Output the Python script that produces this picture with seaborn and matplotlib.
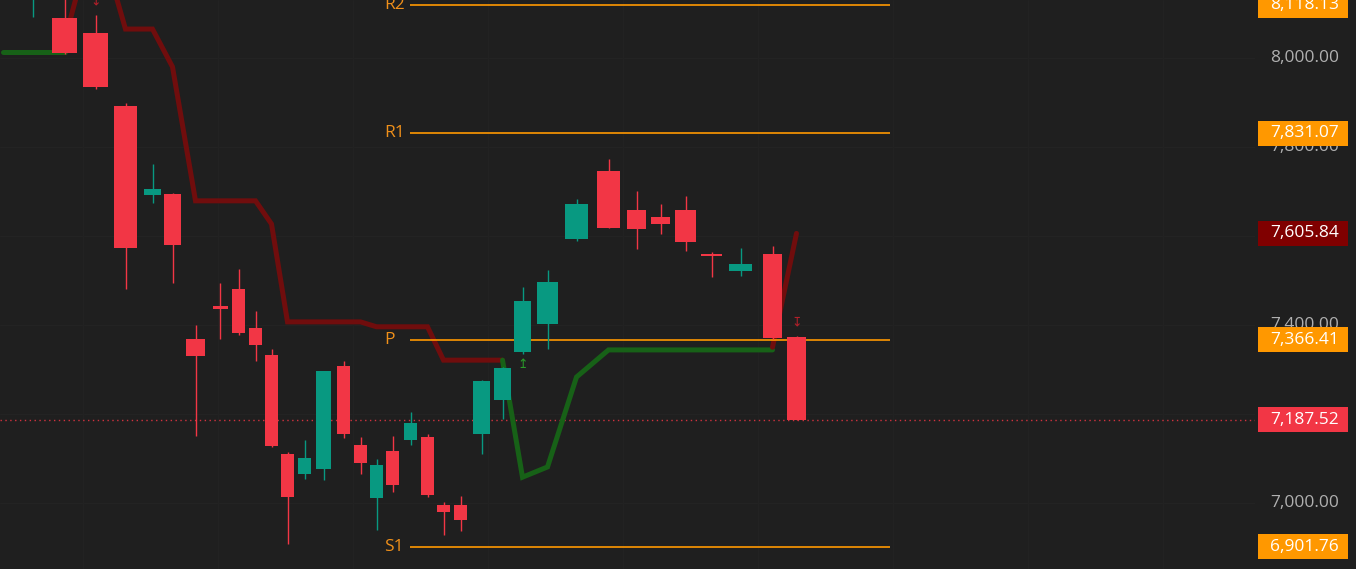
import numpy as np
import pandas as pd
import matplotlib
matplotlib.use("Agg")
import matplotlib.pyplot as plt
import matplotlib.transforms as mtransforms
from matplotlib.patches import FancyBboxPatch
import seaborn as sns

# --- data -----------------------------------------------------------------
bar_t = [3, 33, 64.5, 95.5, 125.5, 152.5, 172.5, 195.5, 220.3, 238.5, 255.5,
         271.5, 287.5, 304.5, 323.5, 343.5, 360.5, 376.5, 392.5, 410.5, 427.5,
         443.5, 460.5, 481.5, 502.5, 522.5, 547.5, 576.5, 608.5, 636.5, 660.5,
         685.5, 711.5, 740.5, 772.5, 796.5]
opens = [8200, 8180, 8090, 8056, 7892, 7692, 7694, 7369, 7438, 7481, 7393,
         7333, 7110, 7066, 7076, 7308, 7130, 7011, 7117, 7142, 7148,
         6996, 6996, 7155, 7232, 7339, 7402, 7593, 7746, 7658, 7643,
         7658, 7555, 7521, 7560, 7373]
highs = [8260, 8260, 8150, 8097, 7899, 7762, 7697, 7401, 7494, 7526, 7431,
         7346, 7115, 7142, 7297, 7319, 7148, 7099, 7151, 7204, 7155,
         7002, 7016, 7276, 7305, 7485, 7524, 7684, 7773, 7701, 7672,
         7690, 7564, 7573, 7578, 7376]
lows = [8150, 8092, 8008, 7930, 7481, 7674, 7494, 7151, 7369, 7378, 7319,
        7126, 6909, 7055, 7052, 7146, 7065, 6939, 7025, 7130, 7013,
        6928, 6937, 7111, 7189, 7335, 7346, 7589, 7617, 7571, 7604,
        7566, 7508, 7510, 7369, 7187.52]
closes = [8240, 8230, 8011, 7935, 7573, 7706, 7580, 7330, 7437, 7382, 7356,
          7129, 7013, 7101, 7297, 7156, 7090, 7085, 7040, 7180, 7018,
          6980, 6962, 7274, 7303, 7454, 7497, 7672, 7618, 7616, 7627,
          7587, 7554, 7537, 7371, 7187.52]

# supertrend segments
st_up1_t = [3, 33, 64.5]
st_up1_v = [8013, 8013, 8013]
st_dn1_t = [64.5, 95.5, 125.5, 152.5, 172.5, 195.5, 220.3, 238.5, 255.5, 271.5,
            287.5, 304.5, 323.5, 343.5, 360.5, 376.5, 392.5, 410.5, 427.5,
            443.5, 460.5, 481.5, 502.5]
st_dn1_v = [8038, 8299, 8065, 8065, 7980, 7679, 7679, 7679, 7679, 7627,
            7407, 7407, 7407, 7407, 7407, 7396, 7396, 7396, 7396,
            7321, 7321, 7321, 7321]
st_up2_t = [502.5, 522.5, 547.5, 576.5, 608.5, 636.5, 660.5, 685.5, 711.5,
            740.5, 772.5]
st_up2_v = [7321, 7058, 7081, 7283, 7344, 7344, 7344, 7344, 7344, 7344, 7344]
st_dn2_t = [772.5, 796.5]
st_dn2_v = [7350, 7605.84]

buy_t = [522.5]
buy_v = [7312]
sell_t = [95.5, 796.5]
sell_v = [8128, 7407]

# pivot levels
pivot_names = ["R2", "R1", "P", "S1"]
pivot_values = [8118.13, 7831.07, 7366.41, 6901.76]
pivot_start, pivot_end = 410, 890

last_price = 7187.52
last_st = 7605.84
price_ticks = [7000, 7200, 7400, 7600, 7800, 8000]
tick_labels = ["7,000.00", "", "7,400.00", "7,600.00", "7,800.00", "8,000.00"]

# --- style ----------------------------------------------------------------
BG = "#1f1f1f"
UP = "#089981"
DN = "#f23645"
ORANGE = "#ff9800"

sns.set_theme(style="dark", rc={"figure.facecolor": BG, "axes.facecolor": BG})
plt.rcParams["font.family"] = ["Open Sans", "DejaVu Sans"]

W, H = 1356, 569
fig = plt.figure(figsize=(W / 100, H / 100), dpi=100)
ax = fig.add_axes([0, 0, 1255 / W, 1])
ymin, ymax = 6851.7, 8130.3
ax.set_xlim(0, 1255)
ax.set_ylim(ymin, ymax)
for s in ax.spines.values():
    s.set_visible(False)
ax.set_xticks([])
ax.set_yticks([])

# faint grid
for v in price_ticks:
    ax.axhline(v, color="#232323", lw=1, zorder=0)
for gx in np.arange(83, 1255, 135):
    ax.axvline(gx, color="#222222", lw=1, zorder=0)

# supertrend lines
for tt, vv, col in [(st_up1_t, st_up1_v, "#176117"), (st_dn1_t, st_dn1_v, "#700d0d"),
                    (st_up2_t, st_up2_v, "#176117"), (st_dn2_t, st_dn2_v, "#700d0d")]:
    sns.lineplot(x=tt, y=vv, ax=ax, color=col, lw=3.6, sort=False,
                 estimator=None, zorder=2, solid_joinstyle="miter")

# candles
t = np.array(bar_t, dtype=float)
gaps = np.diff(t)
left = np.r_[gaps[0], gaps]
right = np.r_[gaps, gaps[-1]]
widths = 0.82 * np.minimum(left, right)
o, h, l, c = map(np.array, (opens, highs, lows, closes))
colors = np.where(c > o, UP, DN)
min_body = 2.2 * (ymax - ymin) / H
ax.vlines(t, l, h, colors=colors, lw=1, zorder=3)
ax.bar(t, np.maximum(np.abs(c - o), min_body), bottom=np.minimum(o, c),
       width=widths, color=colors, zorder=4, linewidth=0)

# signal marks
for x, y in zip(buy_t, buy_v):
    ax.text(x, y, "\u21a5", color="#2a9a2a", fontsize=9, ha="center", va="center",
            family="DejaVu Sans", zorder=5)
for x, y in zip(sell_t, sell_v):
    ax.text(x, y, "\u21a7", color="#b3202a", fontsize=9, ha="center", va="center",
            family="DejaVu Sans", zorder=5)

# pivots
ax.hlines(pivot_values, pivot_start, pivot_end, color=ORANGE, lw=1.2, zorder=2)
for name, v in zip(pivot_names, pivot_values):
    ax.text(384, v, name, color="#f0901a", fontsize=12.5, ha="left", va="center",
            zorder=5, clip_on=True)

# last price dotted line
ax.axhline(last_price, color=DN, lw=1, ls=(0, (1, 2.5)), alpha=0.85, zorder=1)

# price scale
trans = mtransforms.blended_transform_factory(fig.transFigure, ax.transData)
text_x = 1339 / W
for v, lab in zip(price_ticks, tick_labels):
    if lab:
        ax.text(text_x, v, lab, transform=trans, color="#b0b0b0", fontsize=12.5,
                ha="right", va="center", clip_on=False, zorder=3)

box_h = 25 * (ymax - ymin) / H
boxes = [(v, ORANGE) for v in pivot_values] + [(last_st, "#800000"), (last_price, DN)]
for v, col in boxes:
    ax.add_patch(FancyBboxPatch((1258 / W, v - box_h / 2), 90 / W, box_h,
                                boxstyle="square,pad=0", transform=trans,
                                facecolor=col, edgecolor="none", clip_on=False, zorder=6))
    ax.text(text_x, v, f"{v:,.2f}", transform=trans, color="white", fontsize=12.5,
            ha="right", va="center", clip_on=False, zorder=7)

fig.savefig("out.png", dpi=100, facecolor=BG)
